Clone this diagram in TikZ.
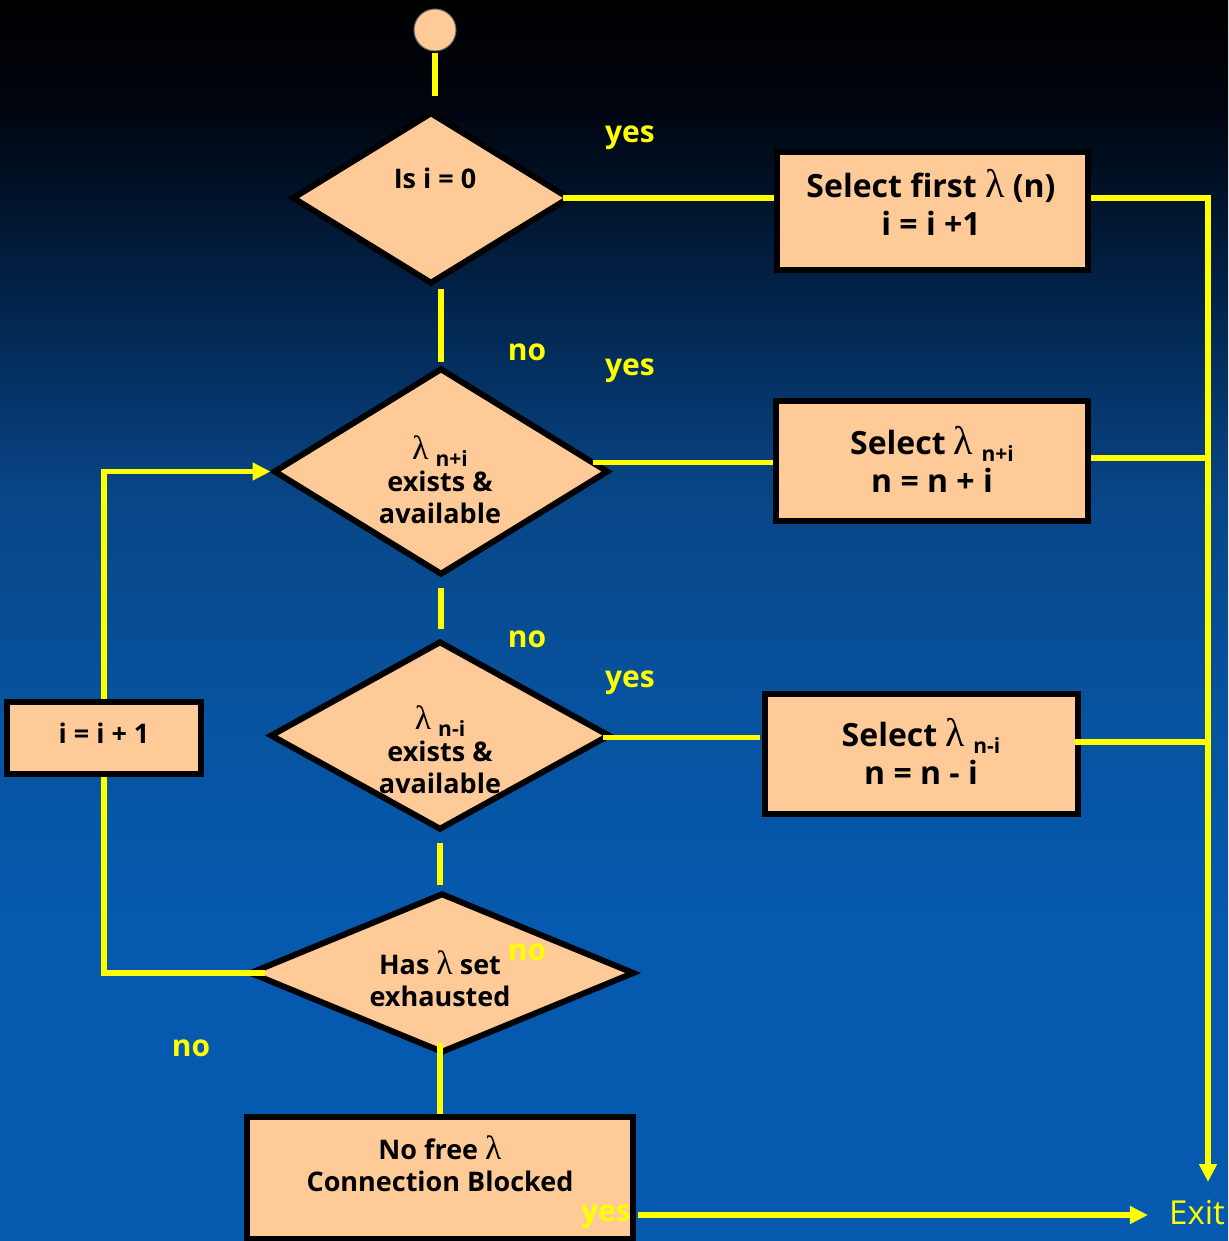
\documentclass[tikz,border=0pt]{standalone}
\usepackage{fontspec}
\setmainfont{Open Sans}
\newfontfamily\lamfont{Liberation Serif}
\usetikzlibrary{shapes.geometric,arrows.meta,calc}

\definecolor{peach}{HTML}{FECB98}
\definecolor{flowyellow}{HTML}{FFFF00}
\definecolor{bgD}{HTML}{0559AE}
\definecolor{bgC}{HTML}{0753A0}
\definecolor{bgB}{HTML}{084687}
\definecolor{bgA}{HTML}{02234A}
\definecolor{bgT}{HTML}{00040C}

% night-to-blue backdrop, path mapped onto 25bp..75bp
\pgfdeclareverticalshading{skyfall}{100bp}{%
  color(0bp)=(bgD); color(25bp)=(bgD); color(38bp)=(bgD);
  color(46bp)=(bgC); color(55bp)=(bgB); color(63bp)=(bgA);
  color(71bp)=(bgT); color(75bp)=(black); color(100bp)=(black)}

\newcommand\lam{\scalebox{1.25}{\lamfont\mdseries λ}}
\newcommand\subidx[1]{\smash{\lower7pt\hbox{\fontsize{21}{21}\selectfont\bfseries #1}}}

\begin{document}
\begin{tikzpicture}[x=1pt,y=-1pt,
  decision/.style={diamond, draw=black, line width=6pt, fill=peach, inner sep=0pt},
  stepbox/.style={rectangle, draw=black, line width=6pt, fill=peach, inner sep=0pt},
  flow/.style={draw=flowyellow, line width=5.5pt},
  arrowflow/.style={flow, -{Triangle[length=18pt,width=17pt]}},
  boxtext/.style={font=\bfseries\fontsize{32}{38}\selectfont, align=center, text=black, inner sep=0pt},
  dtext/.style={font=\bfseries\fontsize{27}{32}\selectfont, align=center, text=black, inner sep=0pt},
  answer/.style={text=flowyellow, font=\bfseries\fontsize{30}{30}\selectfont, inner sep=0pt},
  exitlabel/.style={text=flowyellow, font=\fontsize{33}{33}\selectfont, inner sep=0pt}]

\shade[shading=skyfall] (0,0) rectangle (1228,1241);
\useasboundingbox (0,0) rectangle (1228,1241);

% start
\node[circle, fill=peach, draw=black!60, line width=1pt, minimum size=42pt, inner sep=0pt] (start) at (435,30) {};

% decisions
\node[decision, minimum width=278pt, minimum height=172pt] (d1) at (431,198) {};
\node[decision, minimum width=335pt, minimum height=207pt] (d2) at (441,471.5) {};
\node[decision, minimum width=340pt, minimum height=189pt] (d3) at (440,735.5) {};
\node[decision, minimum width=385pt, minimum height=160pt] (d4) at (442,973) {};

\node[dtext] (d1t) at (435,178) {Is i = 0};
\node[dtext] (d2t) at (440,480) {\lam\ \subidx{n+i}\\exists \&\\available};
\node[dtext] (d3t) at (440,750) {\lam\ \subidx{n-i}\\exists \&\\available};
\node[dtext] (d4t) at (440,979) {Has \lam\ set\\exhausted};

% process boxes
\node[stepbox, minimum width=311pt, minimum height=118pt] (b1) at (932.5,211) {};
\node[stepbox, minimum width=312pt, minimum height=120pt] (b2) at (932,461) {};
\node[stepbox, minimum width=313pt, minimum height=120pt] (b3) at (921.5,754) {};
\node[stepbox, minimum width=194pt, minimum height=72pt] (b0) at (104,738) {};
\node[stepbox, minimum width=386pt, minimum height=122pt] (b5) at (440,1178) {};

\node[boxtext] (b1t) at (931,202) {Select first \lam\ (n)\\i = i +1};
\node[boxtext] (b2t) at (932,459) {Select \lam\ \subidx{n+i}\\n = n + i};
\node[boxtext] (b3t) at (921,751) {Select \lam\ \subidx{n-i}\\n = n - i};
\node[dtext] (b0t) at (104,733) {i = i + 1};
\node[dtext] (b5t) at (440,1164) {No free \lam\\Connection Blocked};

\node[exitlabel] (exit) at (1197,1213) {Exit};
\coordinate (railend) at (1208,1182);

% connectors
\draw[flow] ($(start.south)+(0,2)$) -- ($(start.south |- d1.north)+(0,-13)$);
\draw[flow] ($(d1.east)+(-10,0)$) -- (d1.east -| b1.west);
\draw[arrowflow] ($(b1.east)+(0,-13)$) -| (railend);
\draw[flow] ($(d2.north |- d1.south)+(0,2)$) -- ($(d2.north)+(0,-3)$);
\draw[flow] ($(d2.east)+(-19,-9)$) -- ($(d2.east -| b2.west)+(0,-9)$);
\draw[flow] ($(b2.east)+(0,-3)$) -- ($(b2.east -| railend)+(0,-3)$);
\draw[flow] ($(d2.south)+(0,10)$) -- ($(d2.south |- d3.north)+(0,-9)$);
\draw[flow] ($(d3.east)+(-10,2)$) -- ($(d3.east -| b3.west)+(-2,2)$);
\draw[flow] ($(b3.east)+(-6,-12)$) -- ($(b3.east -| railend)+(0,-12)$);
\draw[flow] ($(d3.south)+(0,10)$) -- ($(d3.south |- d4.north)+(0,-5)$);
\draw[flow] ($(d4.west)+(18,0)$) -| (b0.south);
\draw[arrowflow] (b0.north) |- (d2.west);
\draw[flow] ($(b5.north |- d4.south)+(0,-13)$) -- (b5.north);
\draw[arrowflow] ($(b5.east |- exit.west)+(2,2)$) -- ($(exit.west)+(-21,2)$);

% branch labels
\node[answer] (y1) at (630,138) {yes};
\node[answer] (n1) at (527,352) {no};
\node[answer] (y2) at (630,371) {yes};
\node[answer] (n2) at (527,639) {no};
\node[answer] (y3) at (630,683) {yes};
\node[answer] (n3) at (527,952) {no};
\node[answer] (n4) at (191,1048) {no};
\node[answer] (y4) at (606,1217) {yes};
\end{tikzpicture}
\end{document}
